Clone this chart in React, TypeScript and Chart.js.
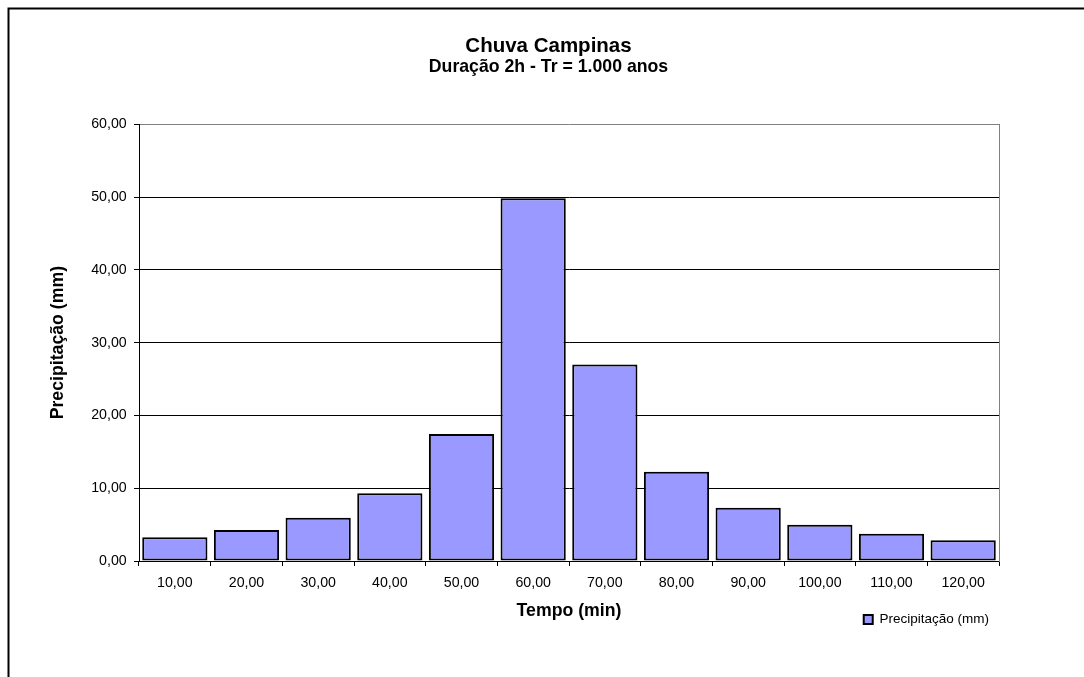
import { useEffect, useRef } from 'react';
import { Chart, registerables } from 'chart.js';

Chart.register(...registerables);

// Hietograma de projeto: chuva de 2 h em Campinas, período de retorno de 1.000 anos
const categorias = ['10,00', '20,00', '30,00', '40,00', '50,00', '60,00', '70,00', '80,00', '90,00', '100,00', '110,00', '120,00'];
const precipitacao = [3.26, 4.26, 5.95, 9.3, 17.45, 49.85, 27.0, 12.27, 7.33, 4.99, 3.75, 2.84];
const serieNome = 'Precipitação (mm)';
const titulo = 'Chuva Campinas';
const subtitulo = 'Duração 2h - Tr = 1.000 anos';
const tituloEixoX = 'Tempo (min)';
const tituloEixoY = 'Precipitação (mm)';
const eixoYMin = 0;
const eixoYMax = 60;
const eixoYPasso = 10;

const FAMILIA = "'Liberation Sans', Arial, Helvetica, sans-serif";

const formatoBR = (v: number) => v.toFixed(2).replace('.', ',');

// Fundo branco e moldura externa do gráfico
const molduraPlugin = {
  id: 'moldura',
  beforeDraw(chart: any) {
    const { ctx, width, height } = chart;
    ctx.save();
    ctx.fillStyle = '#ffffff';
    ctx.fillRect(0, 0, width, height);
    ctx.strokeStyle = '#000000';
    ctx.lineWidth = 2;
    ctx.strokeRect(8.5, 8.5, width + 20, height + 20);
    ctx.restore();
  },
};

export default function App() {
  const canvasRef = useRef<HTMLCanvasElement | null>(null);

  useEffect(() => {
    if (!canvasRef.current) return;
    Chart.defaults.font.family = FAMILIA;
    Chart.defaults.color = '#000000';

    const chart = new Chart(canvasRef.current, {
      type: 'bar',
      data: {
        labels: categorias,
        datasets: [
          {
            label: serieNome,
            data: precipitacao,
            backgroundColor: '#9999FF',
            borderColor: '#000000',
            borderWidth: 2,
            borderSkipped: false,
            barPercentage: 0.91,
            categoryPercentage: 1,
            yAxisID: 'y',
          },
        ],
      },
      options: {
        animation: false,
        responsive: false,
        devicePixelRatio: 1,
        layout: { padding: { left: 60, right: 47, top: 0, bottom: 40.75 } },
        plugins: {
          title: {
            display: true,
            text: titulo,
            color: '#000000',
            font: { size: 20.5, weight: 'bold', family: FAMILIA, lineHeight: 1.2 },
            padding: { top: 34.4, bottom: -2.1 },
          },
          subtitle: {
            display: true,
            text: subtitulo,
            color: '#000000',
            font: { size: 17.7, weight: 'bold', family: FAMILIA, lineHeight: 1.2 },
            padding: { top: 0, bottom: 46.16 },
          },
          legend: {
            display: true,
            position: 'bottom',
            align: 'end',
            fullSize: false,
            labels: {
              boxWidth: 9,
              boxHeight: 9,
              padding: 10,
              color: '#000000',
              font: { size: 13.5, family: FAMILIA },
            },
          },
          tooltip: { enabled: false },
        },
        scales: {
          x: {
            offset: true,
            afterFit: (scale: any) => {
              scale.height = 41.75;
            },
            grid: {
              display: true,
              offset: true,
              drawOnChartArea: false,
              drawTicks: true,
              tickLength: 5,
              color: '#000000',
              tickColor: '#000000',
            },
            border: { display: true, color: '#000000', width: 1 },
            ticks: {
              autoSkip: false,
              maxRotation: 0,
              minRotation: 0,
              padding: 8.9,
              color: '#000000',
              font: { size: 14.2, family: FAMILIA },
            },
            title: {
              display: true,
              text: tituloEixoX,
              color: '#000000',
              font: { size: 17.7, weight: 'bold', family: FAMILIA, lineHeight: 1.2 },
              padding: { top: 0, bottom: -18.87 },
            },
          },
          y: {
            position: 'left',
            min: eixoYMin,
            max: eixoYMax,
            afterFit: (scale: any) => {
              scale.width = 79;
            },
            grid: {
              display: true,
              drawOnChartArea: true,
              drawTicks: true,
              tickLength: 5,
              lineWidth: 1,
              color: (c: any) => (c.tick && c.tick.value === eixoYMax ? '#808080' : '#000000'),
              tickColor: '#000000',
            },
            border: { display: true, color: '#000000', width: 1 },
            ticks: {
              stepSize: eixoYPasso,
              padding: 7.3,
              color: '#000000',
              font: { size: 14.2, family: FAMILIA },
              callback: (v: any) => formatoBR(Number(v)),
            },
            title: {
              display: true,
              text: tituloEixoY,
              color: '#000000',
              font: { size: 17.7, weight: 'bold', family: FAMILIA, lineHeight: 1.2 },
              padding: { top: -12.62, bottom: 0 },
            },
          },
          // Lateral direita da área de plotagem (borda cinza, sem marcas)
          bordaDireita: {
            type: 'linear',
            position: 'right',
            min: eixoYMin,
            max: eixoYMax,
            afterFit: (scale: any) => {
              scale.width = 38;
            },
            grid: { display: false, drawOnChartArea: false, drawTicks: false },
            border: { display: true, color: '#808080', width: 1 },
            ticks: { display: false },
          },
        },
      },
      plugins: [molduraPlugin],
    } as any);

    return () => {
      chart.destroy();
    };
  }, []);

  return (
    <div style={{ position: 'fixed', left: 0, top: 0, width: 1084, height: 677, overflow: 'hidden' }}>
      <canvas ref={canvasRef} width={1084} height={677} style={{ width: 1084, height: 677, display: 'block' }} />
    </div>
  );
}
